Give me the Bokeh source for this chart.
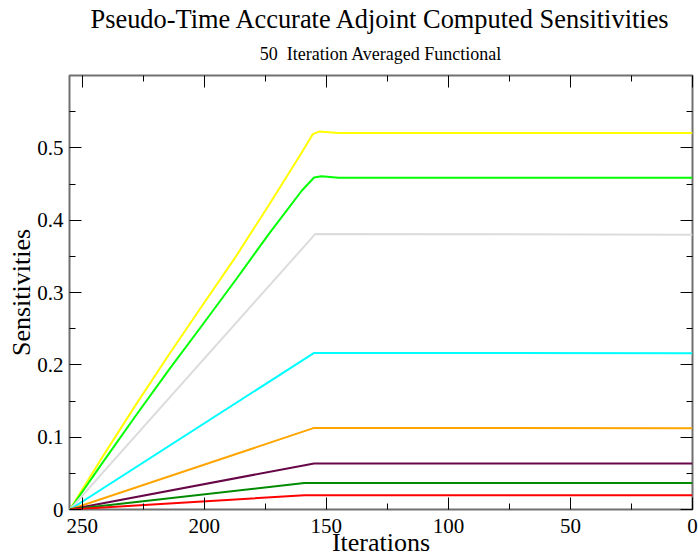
from bokeh.plotting import figure
from bokeh.models import (Range1d, FixedTicker, LinearAxis, Title,
                          CustomLabelingPolicy)
from bokeh.embed import file_html
from bokeh.resources import INLINE

# Sensitivity histories: iteration (counting down) vs computed sensitivity
yellow_x = [255, 242, 228, 214.5, 201, 187, 173.5, 160, 155.5, 153, 145, 0]
yellow_y = [0.0, 0.071, 0.145, 0.214, 0.281, 0.350, 0.421, 0.494, 0.519, 0.5225, 0.5205, 0.5205]

green_x = [255, 242, 228, 214.5, 201, 187, 173.5, 160, 155, 152, 145, 0]
green_y = [0.0, 0.063, 0.130, 0.193, 0.254, 0.318, 0.381, 0.441, 0.459, 0.4606, 0.4588, 0.4588]

grey_x = [255, 154.5, 0]
grey_y = [0.0, 0.381, 0.380]

cyan_x = [255, 155, 0]
cyan_y = [0.0, 0.2165, 0.2160]

orange_x = [255, 155, 0]
orange_y = [0.0, 0.1128, 0.1124]

maroon_x = [255, 155, 0]
maroon_y = [0.0, 0.0637, 0.0636]

green4_x = [255, 159, 0]
green4_y = [0.0, 0.0365, 0.0365]

red_x = [255, 159, 0]
red_y = [0.0, 0.0198, 0.0198]

x_major = [0, 50, 100, 150, 200, 250]
x_minor = [25, 75, 125, 175, 225]
y_major = [0.0, 0.1, 0.2, 0.3, 0.4, 0.5]
y_minor = [0.05, 0.15, 0.25, 0.35, 0.45, 0.55]

FONT = "Liberation Serif"
FRAME = "#707070"

p = figure(width=698, height=559, output_backend="svg", toolbar_location=None,
           x_range=Range1d(255.2, 0), y_range=Range1d(0, 0.6),
           min_border_left=69, min_border_right=6, min_border_top=75,
           min_border_bottom=10, title=None)

p.background_fill_color = "white"
p.border_fill_color = "white"
p.outline_line_color = FRAME
p.outline_line_width = 2
p.xgrid.visible = False
p.ygrid.visible = False

series = [
    (yellow_x, yellow_y, "#ffff00"),
    (green_x, green_y, "#00ff00"),
    (grey_x, grey_y, "#dcdcdc"),
    (cyan_x, cyan_y, "#00ffff"),
    (orange_x, orange_y, "#ffa500"),
    (maroon_x, maroon_y, "#670748"),
    (green4_x, green4_y, "#008b00"),
    (red_x, red_y, "#ff0000"),
]
for xs, ys, col in series:
    p.line(xs, ys, line_color=col, line_width=2)


def style_axis(ax, ticks, minor, show_labels):
    ax.ticker = FixedTicker(ticks=ticks, minor_ticks=minor)
    ax.axis_line_color = None
    ax.major_tick_in = 12
    ax.major_tick_out = 0
    ax.minor_tick_in = 6
    ax.minor_tick_out = 0
    ax.major_tick_line_color = "black"
    ax.minor_tick_line_color = "black"
    ax.major_tick_line_width = 1
    ax.minor_tick_line_width = 1
    if show_labels:
        ax.major_label_text_font = FONT
        ax.major_label_text_font_size = "21px"
        ax.major_label_text_color = "black"
        ax.axis_label_text_font = FONT
        ax.axis_label_text_font_size = "26px"
        ax.axis_label_text_font_style = "normal"
        ax.axis_label_text_color = "black"
    else:
        # mirrored tick marks only, no numbers
        ax.major_label_policy = CustomLabelingPolicy(code="for (const i of []) yield i")
        ax.major_label_text_font_size = "1px"
        ax.major_label_standoff = 0


xa = p.xaxis[0]
style_axis(xa, x_major, x_minor, True)
xa.axis_label = "Iterations"
xa.major_label_standoff = 9
xa.axis_label_standoff = -8

ya = p.yaxis[0]
style_axis(ya, y_major, y_minor, True)
ya.axis_label = "Sensitivities"
ya.major_label_standoff = 6
ya.axis_label_standoff = -2
ya.major_label_overrides = {0: "0"}

top_ax = LinearAxis()
style_axis(top_ax, x_major, x_minor, False)
p.add_layout(top_ax, "above")

right_ax = LinearAxis()
style_axis(right_ax, y_major, y_minor, False)
p.add_layout(right_ax, "right")

sub = Title(text="50\u00a0 Iteration Averaged Functional", align="center",
            text_font=FONT, text_font_size="18px", text_font_style="normal",
            text_color="black", standoff=15)
p.add_layout(sub, "above")
main = Title(text="Pseudo-Time Accurate Adjoint Computed Sensitivities",
             align="center", text_font=FONT, text_font_size="26.4px",
             text_font_style="normal", text_color="black", standoff=2)
p.add_layout(main, "above")

open("out.html", "w").write(file_html(p, INLINE))
